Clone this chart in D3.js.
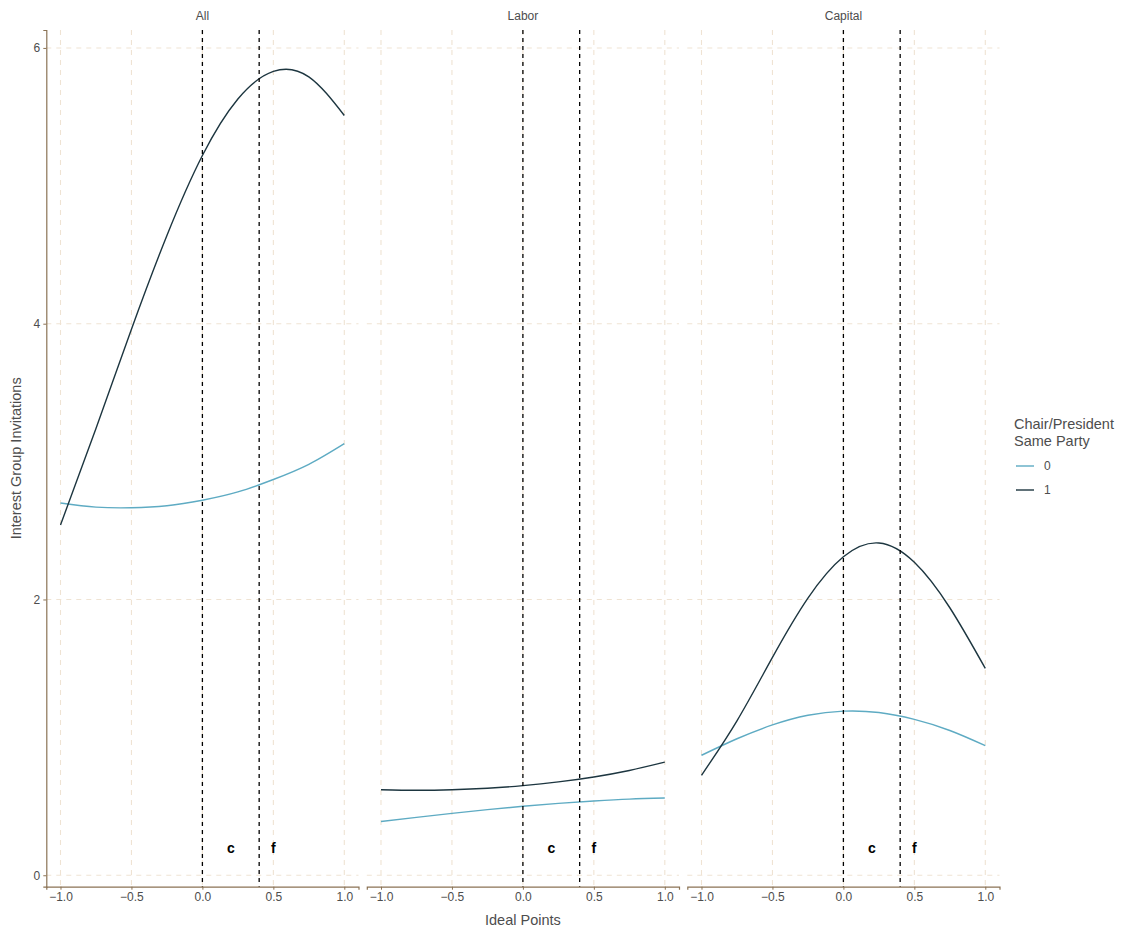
<!DOCTYPE html>
<html>
<head>
<meta charset="utf-8">
<script src="https://cdn.jsdelivr.net/npm/d3@7"></script>
<style>
  body { margin: 0; background: #fff; }
  text { font-family: "Liberation Sans", Arial, sans-serif; }
</style>
</head>
<body>
<svg width="1133" height="933"></svg>
<script>
// values
const panels = ["All", "Labor", "Capital"];
const xs = [-1, -0.75, -0.5, -0.25, 0, 0.25, 0.5, 0.75, 1];
const all0 = [2.70, 2.67, 2.665, 2.68, 2.72, 2.78, 2.87, 2.98, 3.13];
const all1 = [2.54, 3.24, 3.96, 4.64, 5.22, 5.63, 5.83, 5.79, 5.51];
const labor0 = [0.39, 0.42, 0.449, 0.476, 0.50, 0.521, 0.538, 0.552, 0.56];
const labor1 = [0.62, 0.616, 0.62, 0.631, 0.65, 0.677, 0.713, 0.76, 0.82];
const capital0 = [0.87, 0.99, 1.09, 1.16, 1.19, 1.18, 1.13, 1.05, 0.94];
const capital1 = [0.725, 1.12, 1.58, 2.01, 2.31, 2.41, 2.27, 1.94, 1.50];
const groups = ["0", "1"];
const vlines = [0, 0.4];
const marks = [{ x: 0.2, y: 0.2, label: "c" }, { x: 0.5, y: 0.2, label: "f" }];
const xTicks = [-1, -0.5, 0, 0.5, 1];
const yTicks = [0, 2, 4, 6];

const series = {
  All: [all0, all1],
  Labor: [labor0, labor1],
  Capital: [capital0, capital1]
};

const colors = { "0": "#5eabc3", "1": "#1d3640" };
const gridColor = "#efe3d3";
const axisColor = "#8b7355";
const textColor = "#4d4d4d";

const svg = d3.select("svg");

const panelW = 312.2;
const panelGap = 8.3;
const left0 = 46.3;
const panelTop = 30;
const panelBottom = 886.7;

const y = d3.scaleLinear().domain([-0.083, 6.13]).range([panelBottom, panelTop]);

panels.forEach(function (name, i) {
  const left = left0 + i * (panelW + panelGap);
  const x = d3.scaleLinear().domain([-1.1, 1.1]).range([left, left + panelW]);
  const g = svg.append("g");

  // grid
  g.selectAll(".hgrid").data(yTicks).join("line")
    .attr("x1", left).attr("x2", left + panelW)
    .attr("y1", d => y(d)).attr("y2", d => y(d))
    .attr("stroke", gridColor).attr("stroke-width", 1.1)
    .attr("stroke-dasharray", "5,5");
  g.selectAll(".vgrid").data(xTicks).join("line")
    .attr("x1", d => x(d)).attr("x2", d => x(d))
    .attr("y1", panelTop).attr("y2", panelBottom)
    .attr("stroke", gridColor).attr("stroke-width", 1.1)
    .attr("stroke-dasharray", "5,5");

  // strip label
  g.append("text")
    .attr("x", left + panelW / 2).attr("y", 20)
    .attr("text-anchor", "middle")
    .attr("font-size", 12).attr("fill", textColor)
    .text(name);

  // lines
  const line = d3.line()
    .x((d, j) => x(xs[j]))
    .y(d => y(d))
    .curve(d3.curveNatural);
  series[name].forEach(function (vals, k) {
    g.append("path")
      .attr("d", line(vals))
      .attr("fill", "none")
      .attr("stroke", colors[groups[k]])
      .attr("stroke-width", 1.4);
  });

  // vertical reference lines
  g.selectAll(".vline").data(vlines).join("line")
    .attr("x1", d => x(d)).attr("x2", d => x(d))
    .attr("y1", panelTop).attr("y2", panelBottom)
    .attr("stroke", "#000").attr("stroke-width", 1.3)
    .attr("stroke-dasharray", "4,4");

  g.selectAll(".mark").data(marks).join("text")
    .attr("x", d => x(d.x)).attr("y", d => y(d.y))
    .attr("dy", "0.35em")
    .attr("text-anchor", "middle")
    .attr("font-size", 14).attr("font-weight", "bold")
    .attr("fill", "#000")
    .text(d => d.label);

  // x axis
  const xAxis = g.append("g")
    .attr("transform", `translate(0,${panelBottom})`)
    .call(d3.axisBottom(x).tickValues(xTicks)
      .tickFormat(d => d3.format(".1f")(d).replace("-", "\u2212"))
      .tickSize(3).tickPadding(3));
  xAxis.select(".domain").attr("stroke", axisColor).attr("stroke-width", 1.2);
  xAxis.selectAll(".tick line").attr("stroke", axisColor);
  xAxis.selectAll(".tick text").attr("fill", textColor).attr("font-size", 12)
    .style("font-family", "Liberation Sans, Arial, sans-serif");

  if (i === 0) {
    const yAxis = g.append("g")
      .attr("transform", `translate(${left},0)`)
      .call(d3.axisLeft(y).tickValues(yTicks).tickFormat(d3.format("d"))
        .tickSize(3).tickPadding(3));
    yAxis.select(".domain").attr("stroke", axisColor).attr("stroke-width", 1.2);
    yAxis.selectAll(".tick line").attr("stroke", axisColor);
    yAxis.selectAll(".tick text").attr("fill", textColor).attr("font-size", 12)
      .style("font-family", "Liberation Sans, Arial, sans-serif");
  }
});

// axis titles
svg.append("text")
  .attr("x", left0 + (3 * panelW + 2 * panelGap) / 2).attr("y", 925)
  .attr("text-anchor", "middle")
  .attr("font-size", 14.5).attr("fill", textColor)
  .text("Ideal Points");

svg.append("text")
  .attr("transform", `translate(21,${(panelTop + panelBottom) / 2}) rotate(-90)`)
  .attr("text-anchor", "middle")
  .attr("font-size", 14.5).attr("fill", textColor)
  .text("Interest Group Invitations");

// legend
const legend = svg.append("g").attr("transform", "translate(1014,0)");
legend.append("text").attr("x", 0).attr("y", 429)
  .attr("font-size", 14.5).attr("fill", textColor).text("Chair/President");
legend.append("text").attr("x", 0).attr("y", 446)
  .attr("font-size", 14.5).attr("fill", textColor).text("Same Party");
groups.forEach(function (gname, k) {
  const ly = 466 + k * 24;
  legend.append("line")
    .attr("x1", 2).attr("x2", 20).attr("y1", ly).attr("y2", ly)
    .attr("stroke", colors[gname]).attr("stroke-width", 1.4);
  legend.append("text")
    .attr("x", 30).attr("y", ly).attr("dy", "0.35em")
    .attr("font-size", 12).attr("fill", textColor)
    .text(gname);
});
</script>
</body>
</html>
